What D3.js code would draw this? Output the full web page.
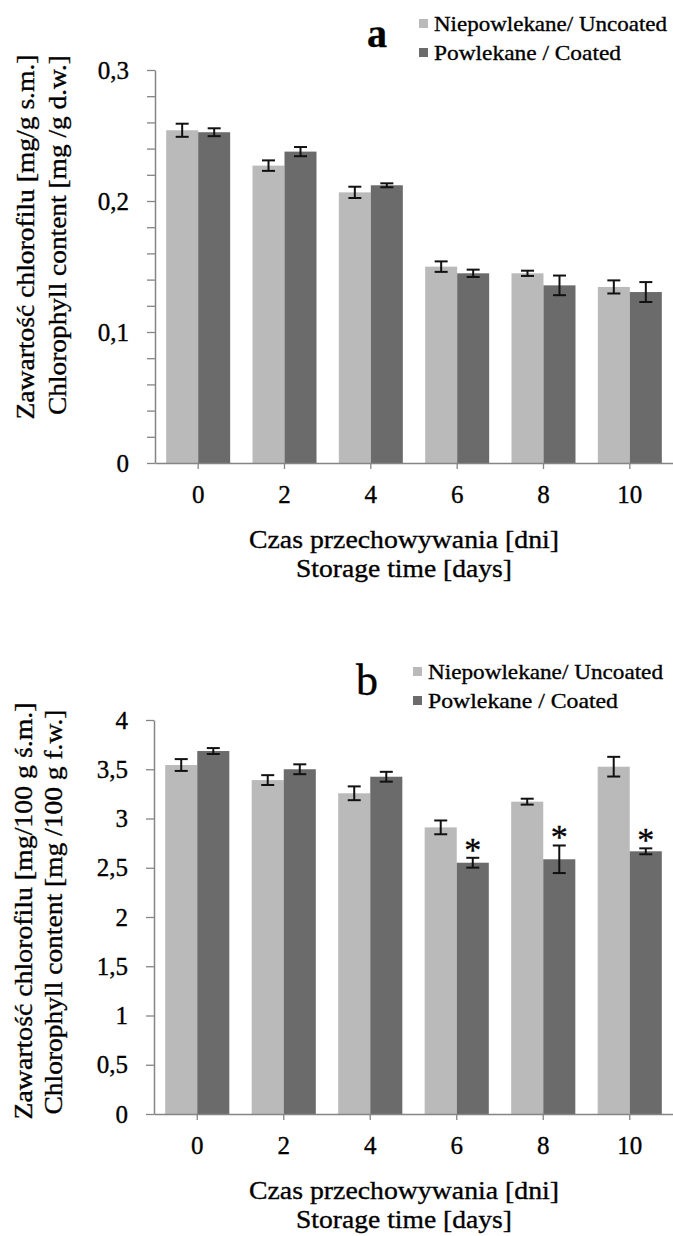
<!DOCTYPE html>
<html>
<head>
<meta charset="utf-8">
<script src="https://cdn.jsdelivr.net/npm/d3@7"></script>
<style>
  html, body { margin: 0; padding: 0; background: #fff; }
  svg { display: block; }
  text { font-family: "Liberation Serif", "Times New Roman", serif; fill: #000; stroke: #000; stroke-width: 0.35px; }
</style>
</head>
<body>
<svg id="chart" width="673" height="1236"></svg>
<script>
// ---------- data ----------
const days = ["0", "2", "4", "6", "8", "10"];
const seriesNames = ["Niepowlekane/ Uncoated", "Powlekane / Coated"];

// panel a – mg/g d.w.
const aUncoated = [0.254, 0.227, 0.2066, 0.1499, 0.1448, 0.1344];
const aCoated = [0.2525, 0.2377, 0.212, 0.1448, 0.1356, 0.1305];
const aUncoatedErr = [0.005, 0.004, 0.0043, 0.004, 0.002, 0.005];
const aCoatedErr = [0.003, 0.0035, 0.0015, 0.0028, 0.0075, 0.0076];
const aTickValues = [0, 0.02, 0.04, 0.06, 0.08, 0.1, 0.12, 0.14, 0.16, 0.18, 0.2, 0.22, 0.24, 0.26, 0.28, 0.3];
const aTickLabels = ["0", "0,1", "0,2", "0,3"];

// panel b – mg/100 g f.w.
const bUncoated = [3.543, 3.39, 3.256, 2.91, 3.171, 3.526];
const bCoated = [3.685, 3.5, 3.424, 2.551, 2.586, 2.667];
const bUncoatedErr = [0.06, 0.05, 0.07, 0.07, 0.03, 0.1];
const bCoatedErr = [0.03, 0.05, 0.05, 0.05, 0.14, 0.03];
const bSignificant = [false, false, false, true, true, true];
const bTickValues = [0, 0.5, 1, 1.5, 2, 2.5, 3, 3.5, 4];
const bTickLabels = ["0", "0,5", "1", "1,5", "2", "2,5", "3", "3,5", "4"];

const xTitle = ["Czas przechowywania [dni]", "Storage time [days]"];
const aYTitle = ["Zawartość chlorofilu [mg/g s.m.]", "Chlorophyll content [mg /g d.w.]"];
const bYTitle = ["Zawartość chlorofilu [mg/100 g ś.m.]", "Chlorophyll content [mg /100 g f.w.]"];

// ---------- style ----------
const colors = ["#bababa", "#6b6b6b"];
const axisColor = "#858585";

const svg = d3.select("#chart");

function panel(cfg) {
  const g = svg.append("g");
  const x = d3.scaleBand().domain(days).range([cfg.left, cfg.right])
    .paddingInner(0.2587).paddingOuter(0.1294);
  const x1 = d3.scaleBand().domain([0, 1]).range([0, x.bandwidth()]);
  const y = d3.scaleLinear().domain([0, cfg.max]).range([cfg.bottom, cfg.top]);

  const rows = days.map((d, i) => ({
    day: d,
    vals: [
      { s: 0, v: cfg.uncoated[i], e: cfg.uncoatedErr[i], sig: false },
      { s: 1, v: cfg.coated[i], e: cfg.coatedErr[i], sig: cfg.sig ? cfg.sig[i] : false }
    ]
  }));

  // bars
  const grp = g.selectAll("g.cat").data(rows).join("g")
    .attr("class", "cat")
    .attr("transform", d => `translate(${x(d.day)},0)`);
  grp.selectAll("rect").data(d => d.vals).join("rect")
    .attr("x", d => x1(d.s))
    .attr("width", x1.bandwidth())
    .attr("y", d => y(d.v))
    .attr("height", d => y(0) - y(d.v))
    .attr("fill", d => colors[d.s]);

  // error bars
  const eb = grp.selectAll("g.err").data(d => d.vals).join("g").attr("class", "err")
    .attr("stroke", "#111").attr("stroke-width", 2);
  const cx = d => x1(d.s) + x1.bandwidth() / 2;
  eb.append("line").attr("x1", cx).attr("x2", cx)
    .attr("y1", d => y(d.v + d.e)).attr("y2", d => y(d.v - d.e));
  eb.append("line").attr("x1", d => cx(d) - 6.5).attr("x2", d => cx(d) + 6.5)
    .attr("y1", d => y(d.v + d.e)).attr("y2", d => y(d.v + d.e));
  eb.append("line").attr("x1", d => cx(d) - 6.5).attr("x2", d => cx(d) + 6.5)
    .attr("y1", d => y(d.v - d.e)).attr("y2", d => y(d.v - d.e));

  // significance asterisks
  grp.selectAll("text.sig").data(d => d.vals.filter(v => v.sig)).join("text")
    .attr("class", "sig")
    .attr("x", cx)
    .attr("y", d => y(d.v + d.e) + 3)
    .attr("text-anchor", "middle")
    .style("font-size", "34px")
    .text("*");

  // y axis
  const yAxis = d3.axisLeft(y).tickValues(cfg.tickValues).tickSize(8).tickSizeOuter(0)
    .tickPadding(18)
    .tickFormat(v => {
      const k = cfg.labelValues.findIndex(l => Math.abs(l - v) < 1e-9);
      return k >= 0 ? cfg.tickLabels[k] : "";
    });
  const ya = g.append("g").attr("transform", `translate(${cfg.left},0)`).call(yAxis);
  ya.select(".domain").attr("stroke", axisColor).attr("stroke-width", 1.5);
  ya.selectAll(".tick line").attr("stroke", axisColor).attr("stroke-width", 1.3);
  ya.selectAll(".tick text").style("font-size", "25px").attr("fill", "#000")
    .style("font-family", '"Liberation Serif", serif');

  // x axis
  const xAxis = d3.axisBottom(x).tickSize(6).tickSizeOuter(0).tickPadding(16);
  const xa = g.append("g").attr("transform", `translate(0,${cfg.bottom})`).call(xAxis);
  xa.select(".domain").attr("stroke", axisColor).attr("stroke-width", 1.5);
  xa.selectAll(".tick line").attr("stroke", axisColor).attr("stroke-width", 1.3);
  xa.selectAll(".tick text").style("font-size", "25px").attr("fill", "#000")
    .style("font-family", '"Liberation Serif", serif');

  // x title
  g.append("text").attr("x", 404).attr("y", cfg.bottom + 85).attr("text-anchor", "middle")
    .style("font-size", "26px").attr("textLength", 310).attr("lengthAdjust", "spacingAndGlyphs")
    .text(xTitle[0]);
  g.append("text").attr("x", 404).attr("y", cfg.bottom + 114).attr("text-anchor", "middle")
    .style("font-size", "26px").attr("textLength", 216).attr("lengthAdjust", "spacingAndGlyphs")
    .text(xTitle[1]);

  // y title
  cfg.yTitle.forEach((t, i) => {
    g.append("text")
      .attr("transform", `translate(${cfg.yTitleX[i]},${cfg.yTitleCY[i]}) rotate(-90)`)
      .attr("text-anchor", "middle")
      .style("font-size", "25px")
      .attr("textLength", cfg.yTitleLen[i]).attr("lengthAdjust", "spacingAndGlyphs")
      .text(t);
  });

  // panel letter
  g.append("text").attr("x", cfg.letterX).attr("y", cfg.letterY).attr("text-anchor", "middle")
    .style("font-size", cfg.letterSize + "px").style("font-weight", cfg.letterWeight)
    .text(cfg.letter);

  // legend
  seriesNames.forEach((n, i) => {
    g.append("rect").attr("x", cfg.legX).attr("y", cfg.legY[i]).attr("width", 9).attr("height", 9)
      .attr("fill", colors[i]);
    g.append("text").attr("x", cfg.legX + 15).attr("y", cfg.legY[i] + 12)
      .style("font-size", "22px")
      .attr("textLength", cfg.legLen[i]).attr("lengthAdjust", "spacingAndGlyphs")
      .text(n);
  });
}

panel({
  left: 155, right: 673, top: 70, bottom: 463, max: 0.3,
  uncoated: aUncoated, coated: aCoated, uncoatedErr: aUncoatedErr, coatedErr: aCoatedErr,
  tickValues: aTickValues, labelValues: [0, 0.1, 0.2, 0.3], tickLabels: aTickLabels,
  yTitle: aYTitle, yTitleX: [34, 66], yTitleCY: [237, 235], yTitleLen: [365, 360],
  letter: "a", letterX: 377, letterY: 47, letterSize: 40, letterWeight: "bold",
  legX: 419, legY: [19, 48], legLen: [233, 187]
});

panel({
  left: 154, right: 673, top: 720, bottom: 1114, max: 4,
  uncoated: bUncoated, coated: bCoated, uncoatedErr: bUncoatedErr, coatedErr: bCoatedErr,
  sig: bSignificant,
  tickValues: bTickValues, labelValues: bTickValues, tickLabels: bTickLabels,
  yTitle: bYTitle, yTitleX: [32, 62], yTitleCY: [911, 912], yTitleLen: [417, 405],
  letter: "b", letterX: 367, letterY: 695, letterSize: 44, letterWeight: "normal",
  legX: 413, legY: [667, 696], legLen: [235, 190]
});
</script>
</body>
</html>
